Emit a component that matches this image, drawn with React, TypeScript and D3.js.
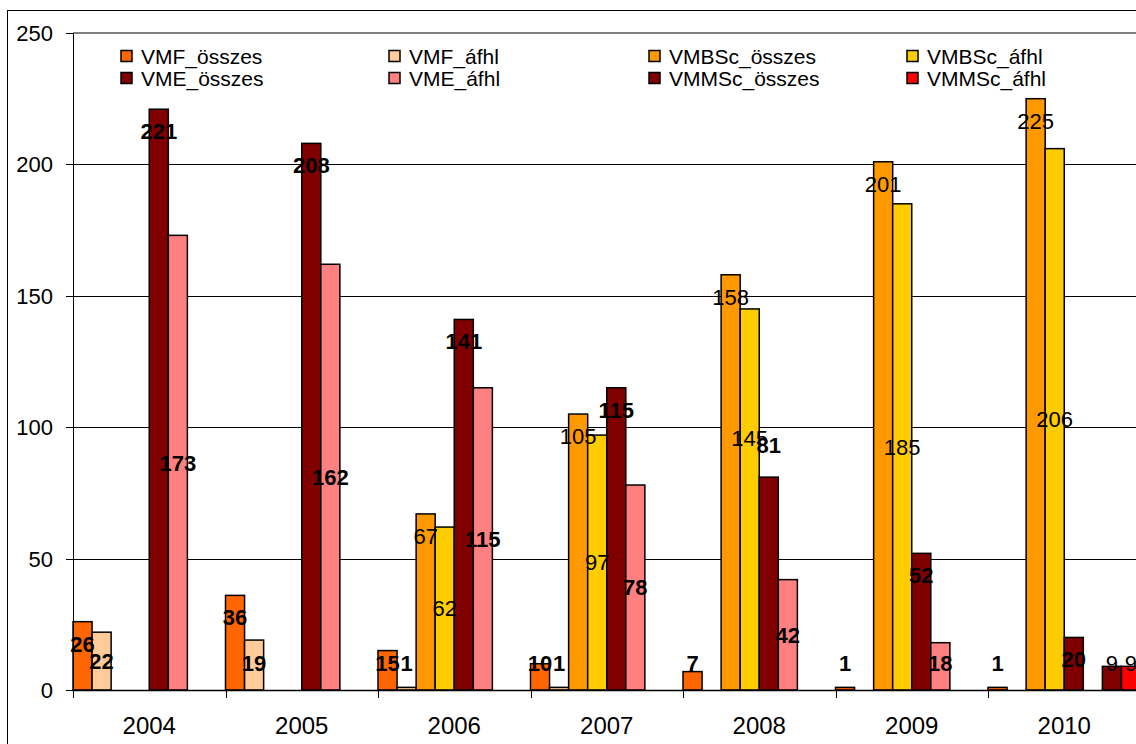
import React from "react";
import * as d3 from "d3";

const years = ["2004", "2005", "2006", "2007", "2008", "2009", "2010"];

const seriesNames = [
  "VMF_összes",
  "VMF_áfhl",
  "VMBSc_összes",
  "VMBSc_áfhl",
  "VME_összes",
  "VME_áfhl",
  "VMMSc_összes",
  "VMMSc_áfhl",
];

const vmfOsszes = [26, 36, 15, 10, 7, 1, 1];
const vmfAfhl = [22, 19, 1, 1, null, null, null];
const vmbscOsszes = [null, null, 67, 105, 158, 201, 225];
const vmbscAfhl = [null, null, 62, 97, 145, 185, 206];
const vmeOsszes = [221, 208, 141, 115, 81, 52, 20];
const vmeAfhl = [173, 162, 115, 78, 42, 18, null];
const vmmscOsszes = [null, null, null, null, null, null, 9];
const vmmscAfhl = [null, null, null, null, null, null, 9];

const yTicks = [0, 50, 100, 150, 200, 250];

const seriesValues = [
  vmfOsszes,
  vmfAfhl,
  vmbscOsszes,
  vmbscAfhl,
  vmeOsszes,
  vmeAfhl,
  vmmscOsszes,
  vmmscAfhl,
];

const colors = [
  "#FF6600",
  "#FFCC99",
  "#FF9900",
  "#FFCC00",
  "#800000",
  "#FF8080",
  "#800000",
  "#FF0000",
];

// VMF and VME labels are bold in the original
const boldLabel = [true, true, false, false, true, true, false, false];

// two labels in 2008 were dragged upwards in the original
const labelNudge: Record<string, number> = {
  "VMBSc_áfhl-2008": -61,
  "VME_összes-2008": -54,
};

const FONT = "'Liberation Sans', Arial, sans-serif";

export default function App() {
  const width = 1136;
  const height = 744;
  const left = 73;
  const top = 33;
  const bottom = 690;
  const bandW = 152.5;

  const x0 = d3
    .scaleBand<string>()
    .domain(years)
    .range([left, left + bandW * years.length])
    .padding(0);

  const x1 = d3
    .scaleBand<string>()
    .domain(seriesNames)
    .range([0, x0.bandwidth()])
    .padding(0);

  const y = d3.scaleLinear().domain([0, 250]).range([bottom, top]);

  const legendCols = [121, 389, 649, 907];
  const legendRows = [56, 78];

  const bars: React.ReactNode[] = [];
  const labels: React.ReactNode[] = [];

  seriesNames.forEach((name, si) => {
    seriesValues[si].forEach((v, yi) => {
      if (v == null) return;
      const bx = (x0(years[yi]) as number) + (x1(name) as number);
      const bw = x1.bandwidth();
      const yt = y(v);
      bars.push(
        <rect
          key={`b-${si}-${yi}`}
          x={bx}
          y={yt}
          width={bw}
          height={y(0) - yt}
          fill={colors[si]}
          stroke="#000"
          strokeWidth={1.5}
        />
      );
      // "összes" labels sit inside the end, "áfhl" labels are centred
      let ly = si % 2 === 0 ? yt + 22 : (yt + y(0)) / 2;
      ly = Math.min(ly, y(0) - 27);
      ly += labelNudge[`${name}-${years[yi]}`] || 0;
      labels.push(
        <text
          key={`l-${si}-${yi}`}
          x={bx + bw / 2}
          y={ly}
          dy="0.36em"
          textAnchor="middle"
          fontSize={22}
          fontWeight={boldLabel[si] ? "bold" : "normal"}
          fill="#000"
        >
          {String(v)}
        </text>
      );
    });
  });

  return (
    <svg
      width={width}
      height={height}
      style={{ position: "absolute", left: 0, top: 0, background: "#fff" }}
      fontFamily={FONT}
    >
      <rect x={0} y={0} width={width} height={height} fill="#fff" />
      <rect
        x={7.5}
        y={10.5}
        width={1400}
        height={900}
        fill="none"
        stroke="#000"
        strokeWidth={1}
      />

      {/* grid lines */}
      {yTicks
        .filter((t) => t > 0 && t < 250)
        .map((t) => (
          <line
            key={`g-${t}`}
            x1={left}
            x2={width}
            y1={Math.round(y(t)) + 0.5}
            y2={Math.round(y(t)) + 0.5}
            stroke="#000"
            strokeWidth={1}
          />
        ))}
      <line x1={left} x2={width} y1={top} y2={top} stroke="#808080" strokeWidth={2} />

      {bars}

      {/* y axis */}
      <line x1={left + 0.5} x2={left + 0.5} y1={top} y2={bottom} stroke="#000" strokeWidth={1} />
      {yTicks.map((t) => (
        <g key={`yt-${t}`}>
          <line
            x1={left - 7}
            x2={left}
            y1={Math.round(y(t)) + 0.5}
            y2={Math.round(y(t)) + 0.5}
            stroke="#000"
          />
          <text x={53} y={y(t)} dy="0.36em" textAnchor="end" fontSize={22} fill="#000">
            {t}
          </text>
        </g>
      ))}

      {/* x axis */}
      <line x1={left} x2={width} y1={bottom + 0.5} y2={bottom + 0.5} stroke="#000" strokeWidth={1.5} />
      {years.map((yr) => (
        <g key={`xt-${yr}`}>
          <line
            x1={Math.round(x0(yr) as number) + 0.5}
            x2={Math.round(x0(yr) as number) + 0.5}
            y1={bottom}
            y2={bottom + 8}
            stroke="#000"
          />
          <text
            x={(x0(yr) as number) + x0.bandwidth() / 2}
            y={734}
            textAnchor="middle"
            fontSize={24}
            fill="#000"
          >
            {yr}
          </text>
        </g>
      ))}

      {labels}

      {/* legend */}
      {seriesNames.map((name, i) => {
        const lx = legendCols[i % 4];
        const ly = legendRows[Math.floor(i / 4)];
        return (
          <g key={`lg-${name}`}>
            <rect
              x={lx}
              y={ly - 5.5}
              width={11}
              height={11}
              fill={colors[i]}
              stroke="#000"
              strokeWidth={1.5}
            />
            <text x={lx + 20} y={ly} dy="0.36em" fontSize={21} fill="#000">
              {name}
            </text>
          </g>
        );
      })}
    </svg>
  );
}
